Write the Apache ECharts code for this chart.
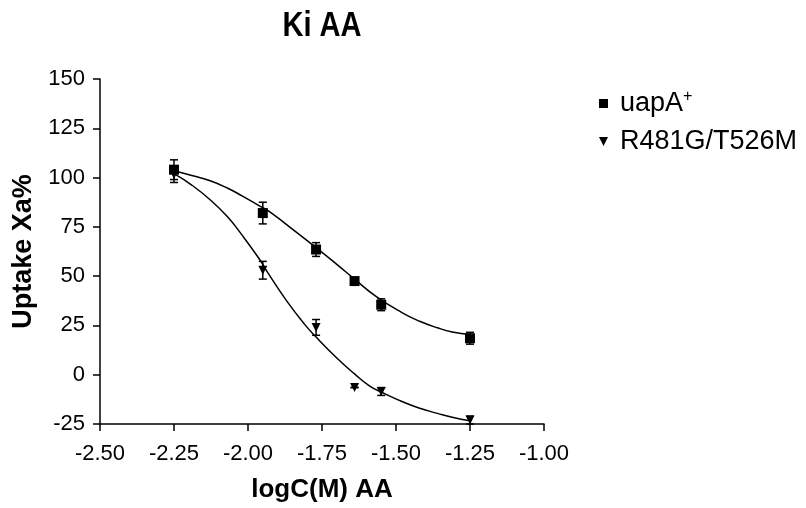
<!DOCTYPE html>
<html>
<head>
<meta charset="utf-8">
<script src="https://cdn.jsdelivr.net/npm/echarts@6/dist/echarts.min.js"></script>
<style>
html,body{margin:0;padding:0;background:#fff;}
#chart{width:806px;height:508px;}
</style>
</head>
<body>
<div id="chart"></div>
<script>
// ---- data ----
const doseX = [-2.25, -1.95, -1.77, -1.64, -1.55, -1.25];
const uapAMean = [104, 82, 63.5, 47.5, 35.5, 18.5];
const uapAErr = [5, 5.5, 3.5, 1, 3, 3];
const mutMean = [101.5, 53, 24, -6.5, -8.5, -23];
const mutErr = [4, 4.5, 4, 0, 2, 2];

// fitted curves
const uapAFitX = [-2.25, -2.19, -2.13, -2.07, -2.02, -1.96, -1.93, -1.86, -1.77, -1.70, -1.64, -1.57, -1.48, -1.42, -1.36, -1.31, -1.25];
const uapAFitY = [103.5, 101.1, 98.5, 94.7, 90.7, 85.5, 83, 75, 64.5, 56, 48.5, 40, 31.5, 27.1, 23.8, 21.7, 20.4];
const mutFitX = [-2.25, -2.19, -2.13, -2.07, -2.02, -1.96, -1.93, -1.87, -1.81, -1.77, -1.70, -1.64, -1.59, -1.54, -1.48, -1.42, -1.36, -1.31, -1.25];
const mutFitY = [102, 96.2, 89, 80.2, 70.8, 58.3, 51, 37.6, 25.8, 19.1, 8.5, 0.4, -5.6, -9.5, -13.6, -17, -19.6, -21.6, -23.4];

const xTicks = [-2.5, -2.25, -2.0, -1.75, -1.5, -1.25, -1.0];
const yTicks = [-25, 0, 25, 50, 75, 100, 125, 150];

const titleText = 'Ki AA';
const seriesNames = ['uapA+', 'R481G/T526M'];
const triDown = 'path://M0,0 L10,0 L5,10 Z';

function pairs(xs, ys) { return xs.map((x, i) => [x, ys[i]]); }
function errData(xs, m, e) { return xs.map((x, i) => [x, m[i] - e[i], m[i] + e[i]]); }

function errRender(params, api) {
  const x = api.value(0);
  const lo = api.coord([x, api.value(1)]);
  const hi = api.coord([x, api.value(2)]);
  const hw = 4;
  const style = { stroke: '#000', lineWidth: 1.5, fill: null };
  return {
    type: 'group',
    children: [
      { type: 'line', shape: { x1: lo[0], y1: lo[1], x2: hi[0], y2: hi[1] }, style },
      { type: 'line', shape: { x1: lo[0] - hw, y1: lo[1], x2: lo[0] + hw, y2: lo[1] }, style },
      { type: 'line', shape: { x1: hi[0] - hw, y1: hi[1], x2: hi[0] + hw, y2: hi[1] }, style }
    ]
  };
}

const chart = echarts.init(document.getElementById('chart'), null, { renderer: 'canvas' });
const font = '"Liberation Sans", Arial, sans-serif';
chart.setOption({
  animation: false,
  backgroundColor: '#fff',
  graphic: [{
    type: 'text',
    x: 322,
    y: 9,
    scaleX: 0.83,
    style: {
      text: titleText,
      fill: '#000',
      font: 'bold 35px "Liberation Sans", Arial, sans-serif',
      textAlign: 'center',
      textVerticalAlign: 'top'
    }
  }],
  legend: {
    orient: 'vertical',
    left: 594,
    top: 84,
    itemWidth: 9,
    itemHeight: 9,
    itemGap: 11,
    data: [
      { name: seriesNames[0], icon: 'rect' },
      { name: seriesNames[1], icon: triDown }
    ],
    formatter: function (name) {
      if (name === seriesNames[0]) return '{n|uapA}{s|+}';
      return '{n|' + name + '}';
    },
    textStyle: {
      color: '#000',
      fontFamily: font,
      rich: {
        n: { fontSize: 27, fontFamily: font, color: '#000', lineHeight: 29, padding: [0, 0, 0, 7] },
        s: { fontSize: 16, fontFamily: font, color: '#000', verticalAlign: 'top', lineHeight: 29, padding: [0, 0, 10, 0] }
      }
    }
  },
  grid: { left: 100, right: 262, top: 79, bottom: 81, containLabel: false },
  xAxis: {
    type: 'value',
    min: xTicks[0], max: xTicks[xTicks.length - 1], interval: 0.25,
    name: 'logC(M) AA',
    nameLocation: 'middle',
    nameGap: 53,
    nameTextStyle: { fontFamily: font, fontWeight: 'bold', fontSize: 26, color: '#000' },
    axisLine: { onZero: false, lineStyle: { color: '#000', width: 1.5 } },
    axisTick: { length: 7, lineStyle: { color: '#000', width: 1.5 } },
    axisLabel: { fontFamily: font, fontSize: 22, color: '#000', margin: 19, formatter: v => v.toFixed(2) },
    splitLine: { show: false }
  },
  yAxis: {
    type: 'value',
    min: yTicks[0], max: yTicks[yTicks.length - 1], interval: 25,
    name: 'Uptake Xa%',
    nameLocation: 'middle',
    nameGap: 55,
    nameRotate: 90,
    nameTextStyle: { fontFamily: font, fontWeight: 'bold', fontSize: 27, color: '#000' },
    axisLine: { show: true, onZero: false, lineStyle: { color: '#000', width: 1.5 } },
    axisTick: { show: true, length: 7, lineStyle: { color: '#000', width: 1.5 } },
    axisLabel: { fontFamily: font, fontSize: 22, color: '#000', margin: 15 },
    splitLine: { show: false }
  },
  series: [
    { name: 'fit1', type: 'line', data: pairs(uapAFitX, uapAFitY), smooth: 0.5, showSymbol: false, lineStyle: { color: '#000', width: 1.5 }, z: 2, silent: true },
    { name: 'fit2', type: 'line', data: pairs(mutFitX, mutFitY), smooth: 0.5, showSymbol: false, lineStyle: { color: '#000', width: 1.5 }, z: 2, silent: true },
    { name: 'err1', type: 'custom', renderItem: errRender, data: errData(doseX, uapAMean, uapAErr), z: 3, silent: true },
    { name: 'err2', type: 'custom', renderItem: errRender, data: errData(doseX, mutMean, mutErr), z: 3, silent: true },
    { name: seriesNames[0], type: 'scatter', symbol: 'rect', symbolSize: 10, data: pairs(doseX, uapAMean), itemStyle: { color: '#000', opacity: 1 }, z: 4 },
    { name: seriesNames[1], type: 'scatter', symbol: triDown, symbolSize: [9, 9], data: pairs(doseX, mutMean), itemStyle: { color: '#000', opacity: 1 }, z: 4 }
  ]
});
</script>
</body>
</html>
